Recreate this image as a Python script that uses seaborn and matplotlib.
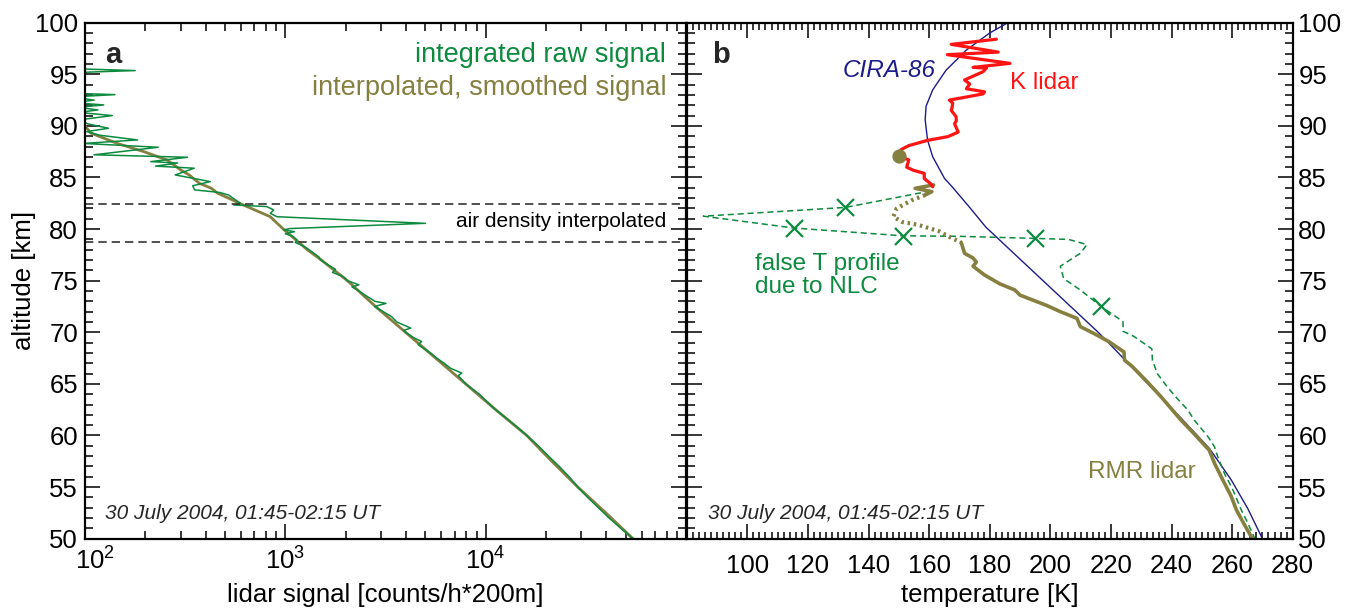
import numpy as np
import matplotlib
matplotlib.use("Agg")
import matplotlib.pyplot as plt
import matplotlib.transforms as mtransforms
from matplotlib.ticker import MultipleLocator, LogLocator, NullFormatter
import seaborn as sns

# ---------------- data: panel a (lidar signal) ----------------
smooth_alt = [90.0, 89.3, 88.3, 87.5, 86.7, 85.7, 85.25, 84.44, 83.96, 83.5, 82.34, 81.2,
              80.0, 79.0, 78.0, 77.0, 76.0, 75.0, 72.5, 70.0, 67.5, 65.0, 62.5, 60.0,
              57.5, 55.0, 52.5, 50.0]
smooth_signal = [100, 107, 145, 197, 257, 302, 331, 372, 427, 457, 617, 841,
                 977, 1122, 1288, 1514, 1758, 2042, 2818, 3981, 5623, 7943, 11220, 16032,
                 21380, 28840, 39810, 54330]

raw_alt = [99.8, 95.6, 95.36, 95.1, 93.2, 93.03, 92.8, 92.5, 92.25, 92.03, 91.8, 91.55,
           91.3, 91.0, 90.6, 90.2, 89.77, 89.45, 89.1, 88.64, 88.3, 87.93, 87.2, 86.96,
           86.54, 86.4, 86.1, 85.9, 85.25, 84.6, 84.2, 83.8, 83.55, 83.3, 82.5, 82.34,
           82.18, 81.85, 81.53, 81.2, 80.56, 80.05, 79.92, 79.75, 79.55, 79.3, 78.95,
           78.7, 78.4, 78.14, 77.66, 77.3, 77.0, 76.5, 76.1, 75.8, 75.4, 75.0, 74.6,
           74.4, 74.0, 73.5, 73.0, 72.8, 72.5, 72.0, 71.5, 71.0, 70.4, 70.2, 70.0, 69.5,
           69.1, 68.8, 68.0, 67.5, 67.0, 66.5, 66.05, 65.8, 65.0, 64.0, 63.0, 62.5, 61.5,
           60.5, 60.0, 59.0, 58.0, 57.0, 56.0, 55.0, 54.0, 53.0, 52.0, 51.0, 50.0]
raw_signal = [60, 70, 178, 70, 75, 141, 85, 111, 88, 124, 92, 116,
              93, 137, 95, 103, 131, 102, 118, 183, 98, 232, 111, 325,
              213, 290, 225, 351, 282, 422, 345, 352, 470, 521, 596, 552,
              809, 875, 841, 908, 5000, 1050, 982, 1110, 1000, 1090, 1143,
              1120, 1220, 1282, 1387, 1470, 1500, 1640, 1780, 1720, 1940, 2042, 2330,
              2150, 2330, 2550, 2800, 3180, 2790, 3080, 3400, 3600, 4230, 3900, 3980, 4350,
              4790, 4600, 5300, 5700, 6200, 6700, 7600, 7300, 7943, 9300, 10500, 11200, 13000,
              15000, 16032, 18300, 20600, 23300, 26100, 28840, 32300, 36500, 41300, 47300, 54330]

interp_bounds = [82.4, 78.78]

# ---------------- data: panel b (temperature) ----------------
cira_alt = [100.0, 99.0, 97.35, 95.4, 93.5, 91.9, 90.6, 88.6, 87.0, 84.9, 84.1, 82.2, 80.2,
            77.5, 75.0, 72.5, 70.0, 68.9, 65.4, 61.7, 58.75, 55.7, 52.9, 50.0]
cira_T = [186.0, 180.0, 172.3, 165.6, 161.2, 159.0, 158.7, 159.5, 161.2, 165.1, 167.6, 173.1,
          178.7, 188.5, 197.6, 206.7, 215.8, 219.5, 230.9, 243.1, 252.5, 259.7, 265.2, 270.0]

k_alt = [98.4, 97.9, 97.15, 96.9, 96.06, 95.67, 95.6, 95.25, 94.45, 94.06, 93.6, 93.3, 93.1,
         92.8, 92.5, 92.2, 91.8, 91.5, 90.9, 90.5, 90.2, 89.4, 88.96, 88.6, 88.1, 87.7, 87.1,
         86.7, 86.0, 85.7, 85.4, 84.9, 84.4, 84.1]
k_T = [182.2, 167.3, 182.8, 166.0, 186.7, 174.5, 178.9, 177.8, 171.7, 173.4, 172.3, 178.3, 177.8,
       172.3, 166.7, 167.8, 167.6, 167.3, 168.9, 169.0, 168.4, 169.6, 166.2, 159.5, 153.4, 150.7, 149.9,
       153.3, 152.6, 154.8, 158.4, 158.4, 160.5, 161.2]

rmr_top_alt = [84.28, 83.95, 83.63, 83.3]
rmr_top_T = [161.5, 155.4, 160.9, 158.7]
rmr_gap_alt = [83.3, 82.8, 82.0, 81.2, 80.7, 80.4, 79.8, 79.27, 78.7]
rmr_gap_T = [158.7, 154.3, 149.3, 148.2, 151.0, 156.5, 163.2, 166.5, 170.6]
rmr_alt = [78.7, 77.65, 77.2, 76.8, 76.4, 75.55, 74.7, 74.1, 73.6, 73.1, 72.6, 72.0, 71.35,
           70.55, 69.9, 69.1, 68.1, 67.3, 66.7, 65.2, 63.8, 61.5, 60.5, 58.9, 58.6, 57.3,
           56.0, 54.1, 52.8, 51.6, 50.2, 50.0]
rmr_T = [170.6, 171.7, 174.5, 175.6, 174.5, 178.3, 183.3, 188.3, 190.0, 194.4, 198.8, 203.3, 208.8,
         209.9, 214.3, 219.3, 224.3, 224.5, 227.0, 232.0, 236.4, 243.1, 246.4, 251.4, 252.4, 254.2,
         256.4, 259.7, 261.4, 263.6, 266.3, 266.8]

false_alt = [83.7, 82.1, 81.25, 80.1, 79.35, 79.3, 79.1, 79.0, 78.5, 77.65, 76.4, 75.2, 74.1,
             72.5, 71.2, 71.0, 70.1, 69.6, 68.4, 67.3, 66.0, 64.9, 63.9, 62.5, 61.5, 59.9,
             58.9, 57.9, 56.3, 54.7, 52.8, 51.5, 50.0]
false_T = [160.5, 132.4, 85.5, 115.5, 151.3, 170.0, 194.8, 206.0, 212.1, 209.9, 203.3, 204.4, 209.9,
           216.8, 223.2, 224.0, 224.0, 227.6, 233.5, 233.7, 235.3, 238.1, 240.9, 245.3, 247.5, 252.0,
           254.2, 255.3, 257.5, 260.3, 263.0, 265.2, 267.5]

cross_alt = [82.1, 80.1, 79.35, 79.1, 72.5]
cross_T = [132.4, 115.5, 151.3, 194.8, 216.8]

dot_alt = [87.05]
dot_T = [150.0]

a_xticks = [1e2, 1e3, 1e4]
a_xticklabels = [r"$10^{2}$", r"$10^{3}$", r"$10^{4}$"]
b_xticks = list(range(100, 281, 20))

# ---------------- styling ----------------
sns.set_theme(style="ticks")
plt.rcParams["font.family"] = ["Liberation Sans", "DejaVu Sans"]
plt.rcParams["mathtext.fontset"] = "custom"
plt.rcParams["mathtext.rm"] = "Liberation Sans"
plt.rcParams["mathtext.it"] = "Liberation Sans:italic"
plt.rcParams["axes.linewidth"] = 1.6

GREEN = "#0C8A3E"
OLIVE = "#857F40"
RED = "#FF1414"
NAVY = "#1C1C8C"

fig = plt.figure(figsize=(13.47, 6.10), dpi=100)
bottom, height = 0.1169, 0.8459
axa = fig.add_axes([0.0631, bottom, 0.4462, height])
axb = fig.add_axes([0.5098, bottom, 0.4499, height])

# ---------------- panel a ----------------
axa.set_xscale("log")
sns.lineplot(x=smooth_signal, y=smooth_alt, sort=False, estimator=None, ax=axa,
             color=OLIVE, lw=2.0)
sns.lineplot(x=raw_signal, y=raw_alt, sort=False, estimator=None, ax=axa,
             color=GREEN, lw=1.1)
for yb in interp_bounds:
    axa.axhline(yb, color="#333333", lw=1.2, linestyle=(0, (5, 3)))
axa.set_xlim(1e2, 1e5)
axa.set_ylim(50, 100)
axa.set_xticks(a_xticks)
axa.set_xticklabels(a_xticklabels)
axa.xaxis.set_minor_locator(LogLocator(base=10, subs=np.arange(2, 10)))
axa.xaxis.set_minor_formatter(NullFormatter())
axa.yaxis.set_major_locator(MultipleLocator(5))
axa.yaxis.set_minor_locator(MultipleLocator(1))
axa.tick_params(which="both", direction="in", top=True, right=True, left=True, bottom=True,
                width=1.1, color="black", labelsize=18.5, labelcolor="black")
axa.tick_params(which="major", length=11)
axa.tick_params(which="minor", length=6)
axa.tick_params(axis="x", pad=6)
axa.tick_params(axis="y", pad=5)
axa.set_xlabel("lidar signal [counts/h*200m]", fontsize=18.5, color="black")
axa.set_ylabel("altitude [km]", fontsize=18.5, color="black")
axa.xaxis.set_label_coords(0.5, -0.085)
axa.yaxis.set_label_coords(-0.082, 0.5)

axa.text(0.047, 0.937, "a", transform=axa.transAxes, fontsize=21, fontweight="bold",
         ha="center", va="center")
axa.text(0.967, 0.938, "integrated raw signal", transform=axa.transAxes, fontsize=19.5,
         color=GREEN, ha="right", va="center")
axa.text(0.967, 0.874, "interpolated, smoothed signal", transform=axa.transAxes, fontsize=19.5,
         color=OLIVE, ha="right", va="center")
axa.text(0.967, 0.614, "air density interpolated", transform=axa.transAxes, fontsize=15,
         color="black", ha="right", va="center")
axa.text(0.033, 0.049, "30 July 2004, 01:45-02:15 UT", transform=axa.transAxes, fontsize=15,
         style="italic", ha="left", va="center")

# ---------------- panel b ----------------
sns.lineplot(x=cira_T, y=cira_alt, sort=False, estimator=None, ax=axb, color=NAVY, lw=1.0)
sns.lineplot(x=false_T, y=false_alt, sort=False, estimator=None, ax=axb, color=GREEN,
             lw=1.1, linestyle=(0, (4, 2.5)))
sns.lineplot(x=rmr_gap_T, y=rmr_gap_alt, sort=False, estimator=None, ax=axb, color=OLIVE,
             lw=3.0, linestyle=(0, (0.6, 0.9)))
sns.lineplot(x=rmr_T, y=rmr_alt, sort=False, estimator=None, ax=axb, color=OLIVE, lw=2.6)
sns.lineplot(x=rmr_top_T, y=rmr_top_alt, sort=False, estimator=None, ax=axb, color=OLIVE, lw=2.6)
sns.lineplot(x=k_T, y=k_alt, sort=False, estimator=None, ax=axb, color=RED, lw=2.3)
sns.scatterplot(x=cross_T, y=cross_alt, ax=axb, marker="x", s=150, color=GREEN,
                linewidth=1.6, zorder=5)
sns.scatterplot(x=dot_T, y=dot_alt, ax=axb, marker="o", s=90, color=OLIVE,
                edgecolor=OLIVE, zorder=6)

axb.set_xlim(80, 280)
axb.set_ylim(50, 100)
axb.set_xticks(b_xticks)
axb.xaxis.set_minor_locator(MultipleLocator(2))
axb.yaxis.set_major_locator(MultipleLocator(5))
axb.yaxis.set_minor_locator(MultipleLocator(1))
axb.tick_params(which="both", direction="in", top=True, right=True, left=True, bottom=True,
                labelleft=False, labelright=True, width=1.1, color="black",
                labelsize=18.5, labelcolor="black")
axb.tick_params(which="major", length=11)
axb.tick_params(which="minor", length=6)
axb.tick_params(axis="x", which="minor", length=5)
axb.tick_params(axis="x", pad=11)
axb.tick_params(axis="y", pad=4)
axb.set_xlabel("temperature [K]", fontsize=18.5, color="black")
axb.set_ylabel("")
axb.xaxis.set_label_coords(0.5, -0.085)

axb.text(0.056, 0.937, "b", transform=axb.transAxes, fontsize=21, fontweight="bold",
         ha="center", va="center")
axb.text(162.0, 95.35, "CIRA-86", fontsize=17.5, style="italic", color=NAVY,
         ha="right", va="center")
axb.text(186.7, 94.13, "K lidar", fontsize=17.5, color=RED, ha="left", va="center")
axb.text(102.4, 75.5, "false T profile\ndue to NLC", fontsize=17.5, color=GREEN,
         ha="left", va="center", linespacing=1.05)
axb.text(212.6, 56.5, "RMR lidar", fontsize=17.5, color=OLIVE, ha="left", va="center")
axb.text(0.035, 0.049, "30 July 2004, 01:45-02:15 UT", transform=axb.transAxes, fontsize=15,
         style="italic", ha="left", va="center")

for ax in (axa, axb):
    for sp in ax.spines.values():
        sp.set_linewidth(1.6)
        sp.set_color("black")
    leg = ax.get_legend()
    if leg is not None:
        leg.remove()

# nudge the leftmost x tick label so it clears the "50" label of the y axis
first_label = axa.xaxis.get_major_ticks()[0].label1
first_label.set_transform(first_label.get_transform() +
                          mtransforms.ScaledTranslation(10 / 100, 0, fig.dpi_scale_trans))

fig.savefig("out.png", dpi=100)
